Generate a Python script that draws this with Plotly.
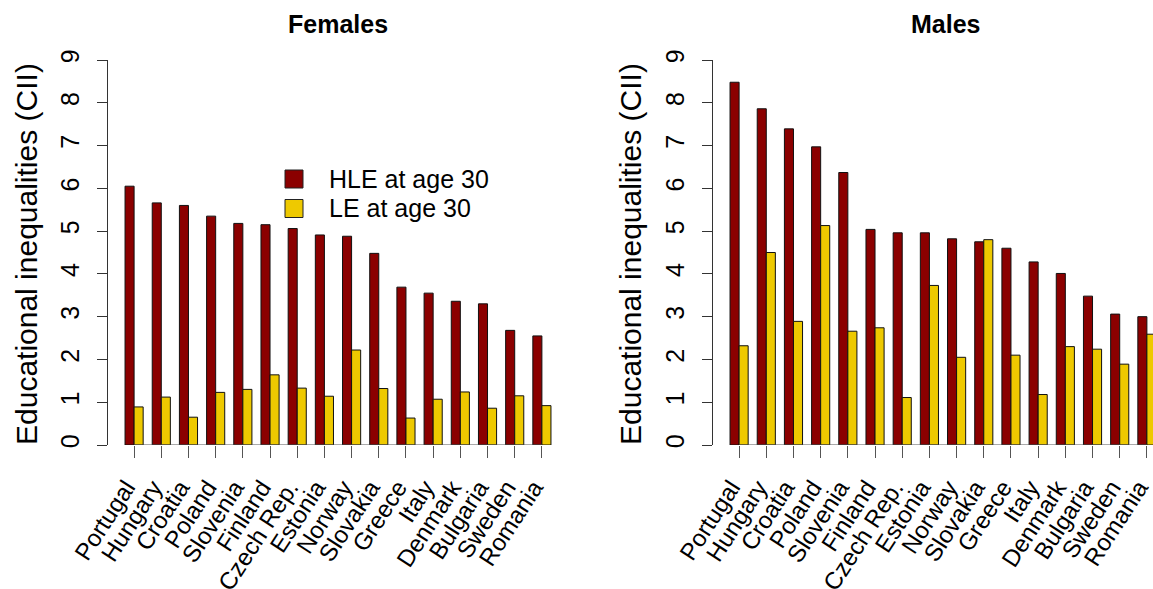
import plotly.graph_objects as go

countries = ["Portugal", "Hungary", "Croatia", "Poland", "Slovenia", "Finland",
             "Czech Rep.", "Estonia", "Norway", "Slovakia", "Greece", "Italy",
             "Denmark", "Bulgaria", "Sweden", "Romania"]

fem_hle = [6.05, 5.66, 5.60, 5.35, 5.18, 5.15, 5.06, 4.91, 4.88, 4.48, 3.69, 3.55, 3.36, 3.30, 2.68, 2.55]
fem_le = [0.89, 1.12, 0.65, 1.23, 1.30, 1.64, 1.33, 1.14, 2.22, 1.32, 0.63, 1.07, 1.24, 0.86, 1.15, 0.92]

male_hle = [8.48, 7.86, 7.39, 6.97, 6.37, 5.04, 4.96, 4.96, 4.82, 4.75, 4.60, 4.28, 4.01, 3.48, 3.06, 3.00]
male_le = [2.32, 4.50, 2.89, 5.13, 2.66, 2.74, 1.11, 3.73, 2.05, 4.80, 2.10, 1.18, 2.30, 2.24, 1.89, 2.59]

series_names = ["HLE at age 30", "LE at age 30"]
panel_titles = ["Females", "Males"]
y_title = "Educational inequalities (CII)"
y_ticks = [0, 1, 2, 3, 4, 5, 6, 7, 8, 9]

W, H = 1153, 589
RED = "#8B0000"
GOLD = "#EEC900"
FONT = "Liberation Sans, Arial, sans-serif"


def px(x):
    return x / W


def py(y):
    return 1 - y / H


fig = go.Figure()
for hle, le, xa, ya in [(fem_hle, fem_le, "x", "y"), (male_hle, male_le, "x2", "y2")]:
    fig.add_trace(go.Bar(x=countries, y=hle, name=series_names[0], xaxis=xa, yaxis=ya,
                         offsetgroup="a", marker=dict(color=RED, line=dict(color="#111", width=1)),
                         showlegend=False, hoverinfo="skip"))
    fig.add_trace(go.Bar(x=countries, y=le, name=series_names[1], xaxis=xa, yaxis=ya,
                         offsetgroup="b", marker=dict(color=GOLD, line=dict(color="#111", width=1)),
                         showlegend=False, hoverinfo="skip"))

unit = 460 / 16.92
left_l, left_r = 108, 568
right_l = 713
right_max = (W - right_l) / unit - 0.96

xcommon = dict(type="category", tickmode="array", tickvals=countries, ticktext=countries,
               ticks="outside", ticklen=12, tickcolor="#555", tickwidth=1,
               tickangle=-57, tickfont=dict(size=24, color="black", family=FONT),
               ticklabelstandoff=6, ticklabelshift=-8,
               showline=False, showgrid=False, zeroline=False, automargin=False)
ycommon = dict(range=[0, 9], tickvals=y_ticks, ticks="outside", ticklen=10, tickcolor="#333",
               showline=True, linecolor="#333", linewidth=1, tickangle=-90,
               tickfont=dict(size=25, color="black", family=FONT), ticklabelstandoff=8,
               showgrid=False, zeroline=False, automargin=False,
               domain=[py(445), py(60)])

fig.update_layout(
    width=W, height=H,
    margin=dict(l=0, r=0, t=0, b=0, autoexpand=False),
    paper_bgcolor="white", plot_bgcolor="white",
    barmode="group", bargap=1/3, bargroupgap=0,
    font=dict(family=FONT, color="black"),
    xaxis=dict(domain=[px(left_l), px(left_r)], range=[-0.96, 15.96], anchor="y", **xcommon),
    yaxis=dict(anchor="x", **ycommon),
    xaxis2=dict(domain=[px(right_l), 1], range=[-0.96, right_max], anchor="y2", **xcommon),
    yaxis2=dict(anchor="x2", **ycommon),
    showlegend=False,
)

for xr, yr in [("x", "y"), ("x2", "y2")]:
    fig.add_shape(type="line", xref=xr, yref=yr, x0=0, x1=len(countries) - 1, y0=0, y1=0,
                  line=dict(color="#555", width=1))

ann = []
ann.append(dict(text="<b>" + panel_titles[0] + "</b>", x=px((left_l + left_r) / 2), y=py(24),
                xref="paper", yref="paper", showarrow=False, xanchor="center", yanchor="middle",
                font=dict(size=25, family=FONT)))
ann.append(dict(text="<b>" + panel_titles[1] + "</b>", x=px(945), y=py(24),
                xref="paper", yref="paper", showarrow=False, xanchor="center", yanchor="middle",
                font=dict(size=25, family=FONT)))
for xc in [26, 630]:
    ann.append(dict(text=y_title, x=px(xc), y=py(254), xref="paper", yref="paper",
                    showarrow=False, textangle=-90, xanchor="center", yanchor="middle",
                    font=dict(size=30, family=FONT)))
for i, (name, col) in enumerate(zip(series_names, [RED, GOLD])):
    yc = 179 + i * 29.5
    fig.add_shape(type="rect", xref="paper", yref="paper",
                  x0=px(285), x1=px(303), y0=py(yc + 9), y1=py(yc - 9),
                  fillcolor=col, line=dict(color="#222", width=1))
    ann.append(dict(text=name, x=px(327), y=py(yc), xref="paper", yref="paper",
                    showarrow=False, xanchor="left", yanchor="middle",
                    font=dict(size=25, family=FONT)))

fig.update_layout(annotations=ann)
fig.write_html("out.html", config={"displayModeBar": False},
               post_script="document.body.style.margin='0';document.body.style.overflow='hidden';")
